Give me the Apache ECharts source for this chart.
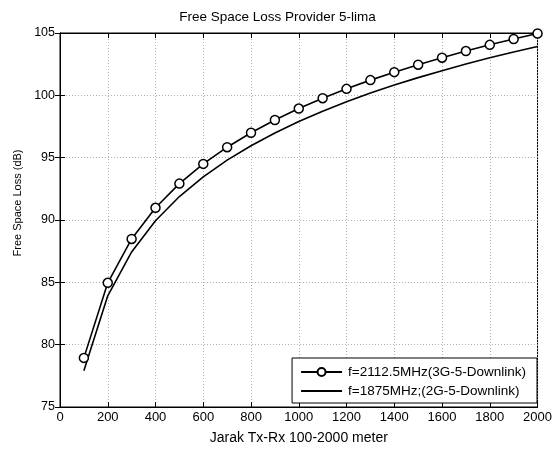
<!DOCTYPE html>
<html><head><meta charset="utf-8">
<script src="https://cdn.jsdelivr.net/npm/echarts@6/dist/echarts.min.js"></script>
<style>html,body{margin:0;padding:0;background:#fff}#c{width:555px;height:450px}</style>
</head><body><div id="c"></div>
<script>
var distances = [100,200,300,400,500,600,700,800,900,1000,1100,1200,1300,1400,1500,1600,1700,1800,1900,2000];
var loss3G = [78.94,84.96,88.48,90.98,92.92,94.50,95.84,97.00,98.02,98.94,99.77,100.52,101.22,101.86,102.46,103.02,103.55,104.05,104.52,104.96];
var loss2G = [77.90,83.92,87.44,89.94,91.88,93.46,94.80,95.96,96.98,97.90,98.73,99.48,100.18,100.82,101.42,101.98,102.51,103.01,103.48,103.92];
var seriesNames = ['f=2112.5MHz(3G-5-Downlink)','f=1875MHz;(2G-5-Downlink)'];
var titleText = 'Free Space Loss Provider 5-lima';
var xName = 'Jarak Tx-Rx 100-2000 meter';
var yName = 'Free Space Loss (dB)';

function pairs(xs, ys){ return xs.map(function(x,i){ return [x, ys[i]]; }); }
var font = 'Liberation Sans, Arial, sans-serif';
var chart = echarts.init(document.getElementById('c'));
var gridLine = {show:true, lineStyle:{color:'#b0b0b0', type:[1,2], width:1}};
var plain = function(v){ return String(v); };
chart.setOption({
  animation:false,
  backgroundColor:'#fff',
  title:{text:titleText, left:'center', top:10, padding:0, textStyle:{fontFamily:font, fontSize:13.5, fontWeight:'normal', color:'#000'}},
  grid:{left:60, right:15, top:33, bottom:41, show:true, borderColor:'#000', borderWidth:1},
  xAxis:[{type:'value', min:0, max:2000, interval:200, name:xName, nameLocation:'middle', nameGap:24,
    nameTextStyle:{fontFamily:font, fontSize:14, color:'#000'},
    axisLine:{show:true, lineStyle:{color:'#000'}}, axisTick:{show:true, inside:true, length:5, lineStyle:{color:'#000'}},
    axisLabel:{fontFamily:font, fontSize:13, color:'#000', margin:4, formatter:plain}, splitLine:gridLine},
    {type:'value', position:'top', min:0, max:2000, interval:200, axisLine:{show:true, lineStyle:{color:'#000'}},
    axisTick:{show:true, inside:true, length:5, lineStyle:{color:'#000'}}, axisLabel:{show:false}, splitLine:{show:false}}],
  yAxis:[{type:'value', min:75, max:105, interval:5, name:yName, nameLocation:'middle', nameGap:36,
    nameTextStyle:{fontFamily:font, fontSize:11, color:'#000', padding:[0,0,0,34]},
    axisLine:{show:true, lineStyle:{color:'#000'}}, axisTick:{show:true, inside:true, length:5, lineStyle:{color:'#000'}},
    axisLabel:{fontFamily:font, fontSize:12.5, color:'#000', margin:5, formatter:plain}, splitLine:gridLine},
    {type:'value', position:'right', min:75, max:105, interval:5, axisLine:{show:true, lineStyle:{color:'#000'}},
    axisTick:{show:true, inside:true, length:5, lineStyle:{color:'#000'}}, axisLabel:{show:false}, splitLine:{show:false}}],
  legend:{orient:'vertical', right:18, bottom:47, itemWidth:41, itemHeight:10, itemGap:5,
    padding:[7,11,5,8], borderColor:'#000', borderWidth:1, backgroundColor:'#fff',
    textStyle:{fontFamily:font, fontSize:13.5, color:'#000', padding:[0,0,0,1]},
    data:[{name:seriesNames[0]},
          {name:seriesNames[1], itemStyle:{color:'rgba(0,0,0,0)', borderColor:'rgba(0,0,0,0)', borderWidth:0}}]},
  series:[
    {name:seriesNames[0], type:'line', data:pairs(distances, loss3G), symbol:'circle', symbolSize:9,
      itemStyle:{color:'#fff', borderColor:'#000', borderWidth:1.5}, lineStyle:{color:'#000', width:1.6}, z:3},
    {name:seriesNames[1], type:'line', data:pairs(distances, loss2G), symbol:'none', showSymbol:false,
      itemStyle:{color:'#000'}, lineStyle:{color:'#000', width:1.6}, z:2}
  ]
});
</script></body></html>
